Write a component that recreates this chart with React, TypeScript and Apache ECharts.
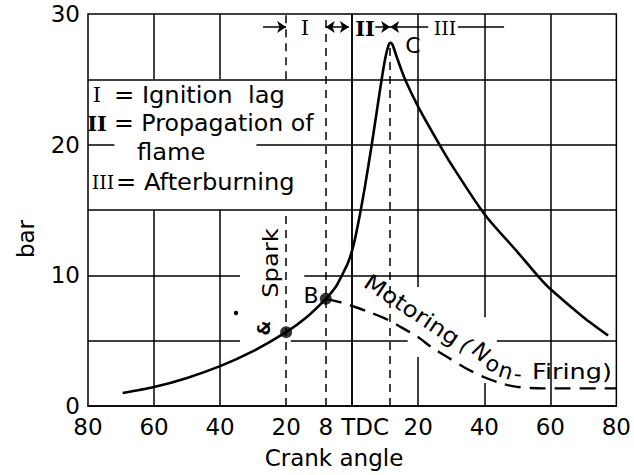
import React, { useEffect, useRef } from "react";
import * as echarts from "echarts";

// ---- data ----
const xLabelValues = [-80, -60, -40, -20, -8, 0, 20, 40, 60, 80];

const firingAngle = [-69.5, -60, -50, -40, -30, -20, -14, -8, -5, -3.3, -1.2, 0.5, 2.3, 4, 5.8, 7.3, 8.8, 10, 11, 11.6, 12.3, 13.5, 16, 20, 26, 30, 40, 50, 56.4, 60, 70, 77.5];
const firingBar = [1.0, 1.45, 2.15, 3.05, 4.2, 5.65, 6.75, 8.2, 9.1, 9.9, 11.0, 12.4, 14.6, 17.0, 19.8, 22.3, 24.8, 26.6, 27.6, 27.8, 27.6, 26.7, 25.0, 22.9, 20.2, 18.5, 14.7, 11.8, 9.9, 8.95, 6.8, 5.4];

const motorAngle = [-8, -6.3, -3, 1.8, 5, 10.8, 15, 19.8, 24, 28.8, 34, 40, 45, 49, 54, 58, 65, 80];
const motorBar = [8.2, 8.1, 7.9, 7.5, 7.2, 6.6, 6.0, 5.3, 4.5, 3.75, 2.95, 2.2, 1.75, 1.5, 1.38, 1.35, 1.35, 1.35];

const markedAngle = [-20, -8];
const markedBar = [5.65, 8.2];

// grid segments: [x1, x2, y] horizontal, [x, y1, y2] vertical
const hSegments = [[-80, 80, 25], [-80, 80, 15], [-80, -72, 20], [-29, 80, 20], [-80, -34, 10], [-14.5, 80, 10], [-80, -34, 5], [-18.6, 16.8, 5], [43.8, 80, 5]];
const vSolid = [[-60, 0, 15], [-60, 25, 30], [-40, 0, 15], [-40, 25, 30], [0, 0, 30], [20, 0, 3.75], [20, 9.1, 30], [40, 0, 1.76], [40, 6.8, 30], [60, 0, 30]];
const vDashed = [[-20, 0, 15], [-20, 25, 30], [-8, 0, 30], [11.5, 0, 27.4]];

const annotY = 29;
const arrowEnd = [[-27, -20], [7, 11.5]];
const arrowBoth = [[-8, -1]];
const arrowStart = [[11.5, 23]];
const plainAnnot = [[32, 46]];

const FONT = '"DejaVu Sans"';
const SERIF = '"DejaVu Serif"';

function linesSeries(data: number[][][], extra: any = {}) {
  return {
    type: "lines",
    coordinateSystem: "cartesian2d",
    silent: true,
    z: 1,
    data: data.map((c) => ({ coords: c })),
    lineStyle: { color: "#000", width: 1.5, opacity: 1, curveness: 0, type: "solid" },
    symbol: "none",
    ...extra,
  };
}

function txt(text: string, x: number, y: number, opts: any = {}) {
  const { size = 22, family = FONT, weight = "normal", align = "center", rotation = 0, scaleX = 1 } = opts;
  return {
    type: "text",
    x,
    y,
    rotation,
    scaleX,
    z: 10,
    silent: true,
    style: {
      text,
      font: `${weight} ${size}px ${family}`,
      fill: "#000",
      align,
      verticalAlign: "middle",
    },
  };
}

export default function App() {
  const ref = useRef<HTMLDivElement>(null);
  useEffect(() => {
    document.body.style.margin = "0";
    const chart = echarts.init(ref.current!, null, { renderer: "svg" });

    const hData = hSegments.map(([a, b, y]) => [[a, y], [b, y]]);
    const vData = vSolid.map(([x, a, b]) => [[x, a], [x, b]]);
    const dData = vDashed.map(([x, a, b]) => [[x, a], [x, b]]);
    const seg = (arr: number[][]) => arr.map(([a, b]) => [[a, annotY], [b, annotY]]);

    const option: any = {
      animation: false,
      backgroundColor: "#fff",
      grid: { left: 88, right: 13, top: 14, bottom: 69, show: true, borderColor: "#000", borderWidth: 1.5 },
      xAxis: {
        type: "value",
        min: -80,
        max: 80,
        interval: 20,
        axisLine: { show: true, onZero: false, lineStyle: { color: "#000", width: 1.5 } },
        axisTick: { show: false },
        splitLine: { show: false },
        axisLabel: {
          customValues: xLabelValues,
          color: "#000",
          fontFamily: FONT,
          fontSize: 23,
          margin: 9,
          formatter: (v: number) => (v === 0 ? "{t|TDC}" : String(Math.abs(v))),
          rich: { t: { padding: [0, 0, 0, 26], fontFamily: FONT, fontSize: 23, color: "#000" } },
        },
      },
      yAxis: {
        type: "value",
        min: 0,
        max: 30,
        interval: 10,
        axisLine: { show: true, lineStyle: { color: "#000", width: 1.5 } },
        axisTick: { show: false },
        splitLine: { show: false },
        axisLabel: { color: "#000", fontFamily: FONT, fontSize: 23, margin: 8 },
      },
      series: [
        linesSeries([...hData, ...vData]),
        linesSeries(dData, { lineStyle: { color: "#000", width: 1.5, opacity: 1, curveness: 0, type: [8, 6] } }),
        linesSeries(seg(arrowEnd), { symbol: ["none", "arrow"], symbolSize: 9 }),
        linesSeries(seg(arrowBoth), { symbol: ["arrow", "arrow"], symbolSize: 9 }),
        linesSeries(seg(arrowStart), { symbol: ["arrow", "none"], symbolSize: 9 }),
        linesSeries(seg(plainAnnot)),
        {
          type: "line",
          data: firingAngle.map((a, i) => [a, firingBar[i]]),
          smooth: 0.25,
          showSymbol: false,
          silent: true,
          z: 3,
          lineStyle: { color: "#000", width: 2.6 },
        },
        {
          type: "line",
          data: motorAngle.map((a, i) => [a, motorBar[i]]),
          smooth: 0.3,
          showSymbol: false,
          silent: true,
          z: 3,
          lineStyle: { color: "#000", width: 2.4, type: [16, 9] },
        },
        {
          type: "scatter",
          data: markedAngle.map((a, i) => [a, markedBar[i]]),
          symbol: "circle",
          symbolSize: 12,
          silent: true,
          z: 4,
          itemStyle: { color: "#000" },
        },
      ],
      graphic: [
        // legend block
        txt("I", 97, 95, { family: SERIF, size: 21 }),
        txt("= Ignition  lag", 114, 95, { align: "left", size: 23, scaleX: 1.05 }),
        txt("II", 97, 123, { family: SERIF, size: 21, weight: "bold" }),
        txt("= Propagation of", 114, 123, { align: "left", size: 23, scaleX: 1.03 }),
        txt("flame", 137, 152, { align: "left", size: 23, scaleX: 1.05 }),
        txt("III", 103, 182, { family: SERIF, size: 19 }),
        txt("= Afterburning", 116, 182, { align: "left", size: 23, scaleX: 1.05 }),
        // top region labels
        txt("I", 305, 28, { family: SERIF, size: 21 }),
        txt("II", 365, 28, { family: SERIF, size: 21, weight: "bold" }),
        txt("III", 445, 28, { family: SERIF, size: 19 }),
        // point labels
        txt("C", 413, 45, { size: 22 }),
        txt("B", 311, 295, { size: 22 }),
        txt("Spark", 270, 263, { size: 22, rotation: Math.PI / 2, scaleX: 1.1 }),
        txt("&", 264, 328, { size: 17, weight: "bold", rotation: Math.PI / 2 }),
        { type: "circle", shape: { cx: 236, cy: 313, r: 2.2 }, style: { fill: "#000" }, z: 10, silent: true },
        // motoring label along the dashed curve
        txt("Motoring", 412, 310, { size: 22, rotation: -0.588, scaleX: 1.12 }),
        txt("(", 466, 345, { size: 22, rotation: -0.8 }),
        txt("N", 481, 352, { size: 22, rotation: -0.8 }),
        txt("o", 493, 364, { size: 22, rotation: -0.5 }),
        txt("n", 506, 371, { size: 22, rotation: -0.3 }),
        txt("-", 518, 374, { size: 22, rotation: -0.1 }),
        txt("Firing)", 572, 372, { size: 22, scaleX: 1.16 }),
        // axis names
        txt("Crank angle", 334, 458, { size: 23 }),
        txt("bar", 26, 239, { size: 23, rotation: Math.PI / 2 }),
      ],
    };

    chart.setOption(option);
    return () => chart.dispose();
  }, []);
  return <div ref={ref} style={{ width: 634, height: 475 }} />;
}
